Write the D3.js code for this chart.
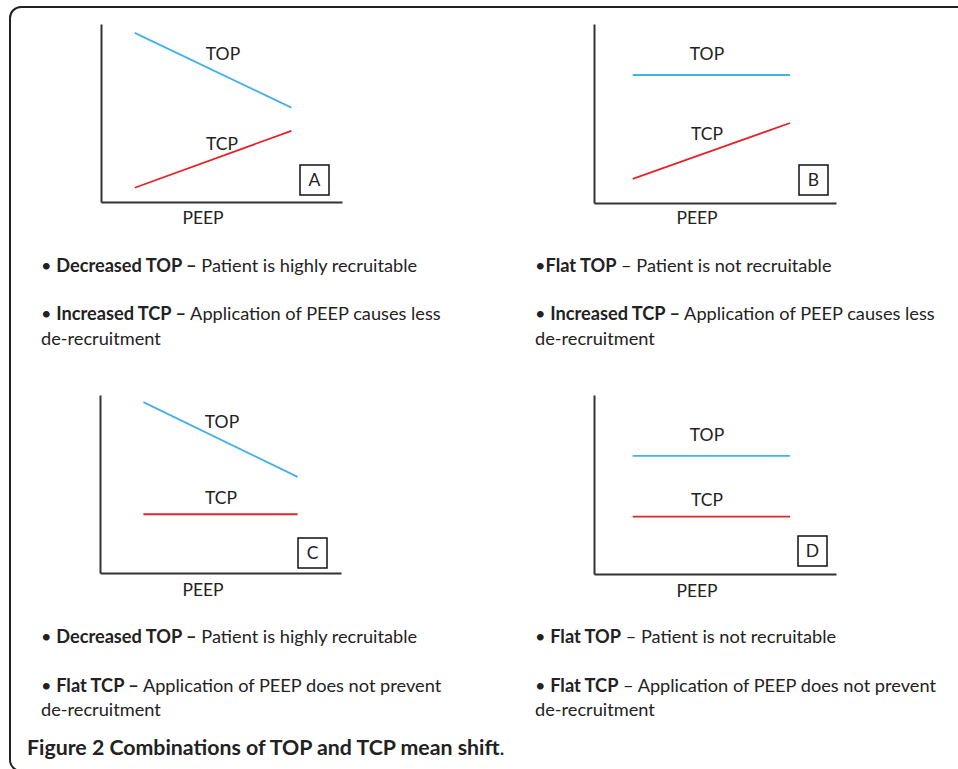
<!DOCTYPE html>
<html><head><meta charset="utf-8">
<script src="https://cdn.jsdelivr.net/npm/d3@7"></script>
<style>body{margin:0;background:#fff}svg{display:block}</style>
</head><body><svg id="c" width="958" height="769"></svg>
<script>
// ---- data ----
const panels = ["A", "B", "C", "D"];
const seriesNames = ["TOP", "TCP"];
const lineX = [[14, 79], [16, 81], [18, 82], [16, 81]];        // PEEP start/end (0-100)
const topValues = [[95, 53], [71.5, 71.5], [96, 54], [66, 66]];  // TOP start/end
const tcpValues = [[8, 40], [13.5, 44.7], [33, 33], [32, 32]];   // TCP start/end
const xLabel = "PEEP";
const bullets = [
  [[["• ", 0], ["Decreased TOP –", 1], [" Patient is highly recruitable", 0]],
   [["• ", 0], ["Increased TCP –", 1], [" Application of PEEP causes less", 0]],
   [["de-recruitment", 0]]],
  [[["•", 0], ["Flat TOP", 1], [" – Patient is not recruitable", 0]],
   [["• ", 0], ["Increased TCP –", 1], [" Application of PEEP causes less", 0]],
   [["de-recruitment", 0]]],
  [[["• ", 0], ["Decreased TOP –", 1], [" Patient is highly recruitable", 0]],
   [["• ", 0], ["Flat TCP –", 1], [" Application of PEEP does not prevent", 0]],
   [["de-recruitment", 0]]],
  [[["• ", 0], ["Flat TOP", 1], [" – Patient is not recruitable", 0]],
   [["• ", 0], ["Flat TCP", 1], [" – Application of PEEP does not prevent", 0]],
   [["de-recruitment", 0]]]
];
const captionBold = "Figure 2 Combinations of TOP and TCP mean shift";
const captionEnd = ".";

// ---- layout ----
const svg = d3.select("#c");
const FONT = "Lato, 'Open Sans', sans-serif";
const TXT = "#222";
const colors = {TOP: "#45b1e6", TCP: "#e4242b"};

// frame
svg.append("rect").attr("x", 10).attr("y", 7).attr("width", 1000).attr("height", 764)
  .attr("rx", 11).attr("fill", "none").attr("stroke", "#222").attr("stroke-width", 2);

const layout = [
  {x0: 101, x1: 342, y0: 24, y1: 202, box: [300, 165], topLbl: [223, 60], tcpLbl: [222, 150], peep: [203, 224], tx: 41, ty: [272, 320, 345]},
  {x0: 594, x1: 836, y0: 24, y1: 203, box: [799, 165], topLbl: [707, 60], tcpLbl: [707, 140], peep: [697, 224], tx: 535, ty: [272, 320, 345]},
  {x0: 100, x1: 341, y0: 395, y1: 573, box: [298, 538], topLbl: [222, 428], tcpLbl: [221, 504], peep: [203, 596], tx: 41, ty: [643, 692, 716]},
  {x0: 594, x1: 836, y0: 395, y1: 574, box: [798, 536], topLbl: [707, 441], tcpLbl: [707, 506], peep: [697, 597], tx: 535, ty: [643, 692, 716]}
];

panels.forEach((p, i) => {
  const L = layout[i];
  const x = d3.scaleLinear().domain([0, 100]).range([L.x0, L.x1]);
  const y = d3.scaleLinear().domain([0, 100]).range([L.y1, L.y0]);
  const g = svg.append("g");

  const ax = g.append("g").attr("transform", `translate(0,${L.y1})`)
    .call(d3.axisBottom(x).ticks(0).tickSize(0).tickSizeOuter(0));
  const ay = g.append("g").attr("transform", `translate(${L.x0},0)`)
    .call(d3.axisLeft(y).ticks(0).tickSize(0).tickSizeOuter(0));
  [ax, ay].forEach(a => { a.selectAll("text").remove(); a.select(".domain").attr("stroke", "#333").attr("stroke-width", 2); });

  const line = d3.line().x(d => x(d[0])).y(d => y(d[1]));
  const series = {TOP: topValues[i], TCP: tcpValues[i]};
  seriesNames.forEach(s => {
    const pts = [[lineX[i][0], series[s][0]], [lineX[i][1], series[s][1]]];
    g.append("path").attr("d", line(pts)).attr("fill", "none")
      .attr("stroke", colors[s]).attr("stroke-width", 1.8);
  });

  const lbl = (t, pos) => g.append("text").attr("x", pos[0]).attr("y", pos[1])
    .attr("text-anchor", "middle").attr("font-family", FONT).attr("font-size", 17.5)
    .attr("fill", TXT).text(t);
  lbl("TOP", L.topLbl);
  lbl("TCP", L.tcpLbl);
  lbl(xLabel, L.peep);

  g.append("rect").attr("x", L.box[0]).attr("y", L.box[1]).attr("width", 29).attr("height", 30)
    .attr("fill", "#fff").attr("stroke", "#111").attr("stroke-width", 1.5);
  g.append("text").attr("x", L.box[0] + 14.5).attr("y", L.box[1] + 21)
    .attr("text-anchor", "middle").attr("font-family", FONT).attr("font-size", 17.5)
    .attr("fill", TXT).text(p);

  bullets[i].forEach((ln, j) => {
    const t = svg.append("text").attr("x", L.tx).attr("y", L.ty[j])
      .attr("font-family", FONT).attr("font-size", 18.2).attr("fill", TXT);
    ln.forEach(([s, b]) => t.append("tspan").attr("font-weight", b ? "bold" : "normal").text(s));
  });
});

const cap = svg.append("text").attr("x", 27).attr("y", 755)
  .attr("font-family", FONT).attr("font-size", 21.3).attr("fill", "#222");
cap.append("tspan").attr("font-weight", "bold").text(captionBold);
cap.append("tspan").attr("font-weight", "normal").text(captionEnd);
</script></body></html>
